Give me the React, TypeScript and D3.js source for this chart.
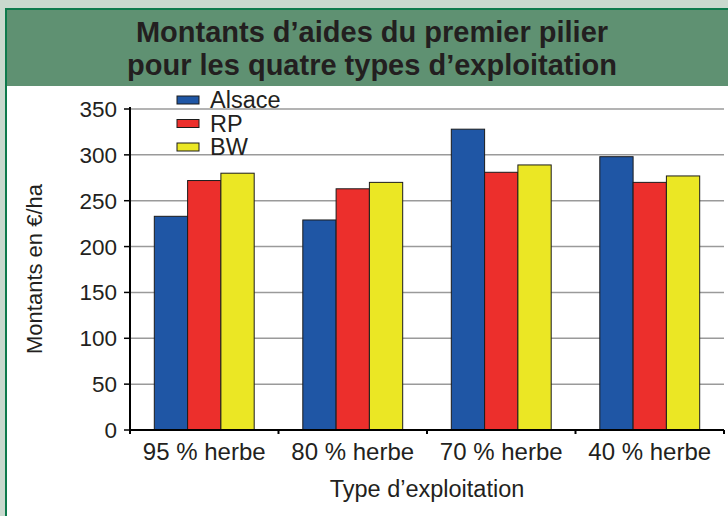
import React from 'react';
import * as d3 from 'd3';

const categories = ['95 % herbe', '80 % herbe', '70 % herbe', '40 % herbe'];
const seriesNames = ['Alsace', 'RP', 'BW'];
const alsace = [233, 229, 328, 298];
const rp = [272, 263, 281, 270];
const bw = [280, 270, 289, 277];
const yTicks = [0, 50, 100, 150, 200, 250, 300, 350];

const colors = ['#1f56a5', '#ec2f2c', '#ebe724'];
const font = '"Liberation Sans", Arial, Helvetica, sans-serif';

export default function App() {
  const width = 728;
  const height = 516;
  const left = 130;
  const right = 724;
  const top = 109;
  const bottom = 430;

  const series = [alsace, rp, bw];

  const x0 = d3.scaleBand<string>().domain(categories).range([left, right]).padding(0);
  const x1 = d3
    .scaleBand<string>()
    .domain(seriesNames)
    .range([0, x0.bandwidth()])
    .paddingInner(0)
    .paddingOuter(0.73);
  const y = d3.scaleLinear().domain([0, 350]).range([bottom, top]);

  return (
    <div style={{ position: 'absolute', left: 0, top: 0, width, height, overflow: 'hidden' }}>
      <svg width={width} height={height} style={{ display: 'block', fontFamily: font }}>
        <rect x={0} y={0} width={width} height={height} fill="#c9d9ce" />
        <rect x={6} y={9} width={width + 10} height={height} fill="#ffffff" stroke="#0e7a4c" strokeWidth={2} />
        <rect x={7} y={10} width={width} height={76} fill="#5f9172" />

        <g fill="#231f20" fontWeight="bold" fontSize={29} textAnchor="middle">
          <text x={372} y={42}>Montants d’aides du premier pilier</text>
          <text x={372} y={75}>pour les quatre types d’exploitation</text>
        </g>

        {/* grid */}
        {yTicks.filter(t => t > 0).map(t => (
          <line key={t} x1={left} x2={right} y1={y(t)} y2={y(t)} stroke="#9a9a9a" strokeWidth={1.5} />
        ))}

        {/* bars */}
        {categories.map((c, i) => (
          <g key={c} transform={`translate(${x0(c)},0)`}>
            {series.map((s, j) => (
              <rect
                key={j}
                x={x1(seriesNames[j])}
                y={y(s[i])}
                width={x1.bandwidth()}
                height={y(0) - y(s[i])}
                fill={colors[j]}
                stroke="#1c1c1c"
                strokeWidth={1}
              />
            ))}
          </g>
        ))}

        {/* y axis */}
        <line x1={left} x2={left} y1={top - 2} y2={bottom} stroke="#000" strokeWidth={2} />
        {yTicks.map(t => (
          <g key={t}>
            <line x1={left - 6} x2={left} y1={y(t)} y2={y(t)} stroke="#000" strokeWidth={1.5} />
            <text x={117} y={y(t) + 8} textAnchor="end" fontSize={22.5} fill="#231f20">
              {t}
            </text>
          </g>
        ))}

        {/* x axis */}
        <line x1={left} x2={right} y1={bottom} y2={bottom} stroke="#000" strokeWidth={2} />
        {categories.concat(['']).map((c, i) => {
          const xx = left + i * x0.step();
          return <line key={i} x1={xx} x2={xx} y1={bottom} y2={bottom + 4} stroke="#000" strokeWidth={2} />;
        })}
        {categories.map(c => (
          <text
            key={c}
            x={(x0(c) as number) + x0.bandwidth() / 2}
            y={460}
            textAnchor="middle"
            fontSize={24}
            fill="#231f20"
          >
            {c}
          </text>
        ))}

        <text x={(left + right) / 2} y={497} textAnchor="middle" fontSize={23.5} fill="#231f20">
          Type d’exploitation
        </text>
        <text
          transform="translate(42,269) rotate(-90)"
          textAnchor="middle"
          fontSize={22}
          fill="#231f20"
        >
          Montants en €/ha
        </text>

        {/* legend */}
        {seriesNames.map((n, i) => (
          <g key={n} transform={`translate(177,${100 + i * 23.5})`}>
            <rect x={0} y={-4} width={22} height={8} fill={colors[i]} stroke="#1c1c1c" strokeWidth={1} />
            <text x={33} y={8} fontSize={23.5} fill="#231f20">
              {n}
            </text>
          </g>
        ))}
      </svg>
    </div>
  );
}
